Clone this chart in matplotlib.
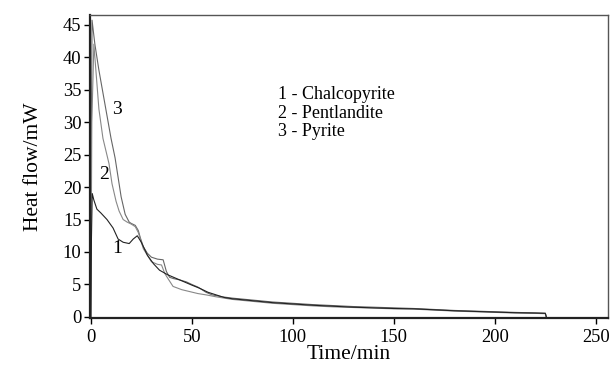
import matplotlib
matplotlib.use("Agg")
import matplotlib.pyplot as plt

# Chalcopyrite (1)
t1 = [0, 0.3, 0.7, 1.5, 3, 5, 8, 11, 13.5, 16, 19, 21, 23, 25, 28, 31, 34, 38, 44,
      50, 54, 58, 62, 66, 70, 80, 90, 100, 110, 120, 130, 140, 150, 160, 170, 180,
      190, 200, 210, 220, 225, 225.5]
v1 = [0, 12, 19, 18, 16.6, 16, 15, 13.7, 12, 11.5, 11.3, 12, 12.5, 11.5, 9.5, 8.2,
      7.2, 6.5, 5.7, 4.9, 4.4, 3.8, 3.4, 3.0, 2.8, 2.5, 2.2, 2.0, 1.8, 1.65, 1.5, 1.4,
      1.3, 1.25, 1.1, 0.95, 0.85, 0.75, 0.65, 0.6, 0.55, 0]

# Pentlandite (2)
t2 = [0, 0.5, 1.5, 2.5, 4, 6, 9, 10.5, 12.5, 14, 16, 18, 20, 22, 23.5, 24.5, 26, 28,
      30, 33, 35, 36.6, 38, 40.7, 45, 49, 53, 57, 62, 66, 70, 80, 90, 100, 110, 120,
      130, 140, 150, 160, 170, 180, 190, 200, 210, 220, 225, 225.5]
v2 = [0, 30, 42, 38, 32, 27.5, 23.6, 20.5, 17.8, 16.3, 15, 14.6, 14.3, 13.9, 13, 12,
      10.5, 9.5, 8.5, 8.1, 8.0, 6.7, 6.0, 4.7, 4.2, 3.9, 3.6, 3.4, 3.1, 2.9, 2.7, 2.4,
      2.1, 1.9, 1.7, 1.55, 1.45, 1.35, 1.25, 1.2, 1.05, 0.9, 0.8, 0.7, 0.6, 0.55, 0.5, 0]

# Pyrite (3)
t3 = [0, 0.2, 0.6, 2, 4, 6, 8, 10, 12, 13.5, 15, 17, 19, 20, 22, 23.5, 24.5, 26, 28,
      30, 33, 35.8, 37.4, 39, 41, 44, 47.3, 50, 53, 57, 60, 65, 70, 80, 90, 100, 110,
      120, 130, 140, 150, 160, 170, 180, 190, 200, 210, 220, 225, 225.5]
v3 = [0, 25, 45.7, 42, 38, 34.5, 31, 27.5, 24.5, 21.5, 18.5, 15.8, 14.6, 14.4, 14.1, 13.3,
      12.2, 10.8, 9.8, 9.2, 8.9, 8.8, 7.0, 6.1, 5.9, 5.7, 5.4, 5.0, 4.6, 3.8, 3.4, 3.1,
      2.9, 2.6, 2.3, 2.1, 1.9, 1.75, 1.6, 1.5, 1.4, 1.3, 1.15, 1.0, 0.9, 0.8, 0.7, 0.62,
      0.58, 0]

legend_lines = ["1 - Chalcopyrite", "2 - Pentlandite", "3 - Pyrite"]

plt.rcParams['font.family'] = ['Liberation Serif', 'DejaVu Serif']

fig = plt.figure(figsize=(6.11, 3.65), dpi=100)
ax = fig.add_axes([0.147, 0.129, 0.848, 0.830])

ax.plot(t3, v3, color='#666666', lw=0.8)
ax.plot(t2, v2, color='#888888', lw=0.8)
ax.plot(t1, v1, color='#222222', lw=0.8)

ax.set_xlim(-0.5, 256.0)
ax.set_ylim(-0.15, 46.5)
ax.set_xticks([0, 50, 100, 150, 200, 250])
ax.set_yticks(range(0, 50, 5))
ax.tick_params(direction='out', length=4, width=1, labelsize=13.3)
ax.tick_params(axis='x', pad=4)
ax.tick_params(axis='y', pad=2)

for s in ['left', 'bottom']:
    ax.spines[s].set_linewidth(1.6)
    ax.spines[s].set_color('#222222')
for s in ['top', 'right']:
    ax.spines[s].set_linewidth(1.0)
    ax.spines[s].set_color('#555555')

ax.set_xlabel("Time/min", fontsize=15.5, labelpad=-1)
ax.set_ylabel("Heat flow/mW", fontsize=15.5, labelpad=14)

ax.text(13, 32.0, "3", fontsize=14, ha='center', va='center')
ax.text(6.5, 22.0, "2", fontsize=14, ha='center', va='center')
ax.text(13, 10.6, "1", fontsize=14, ha='center', va='center')

for i, s in enumerate(legend_lines):
    ax.text(92.5, 34.2 - i * 2.8, s, fontsize=13, ha='left', va='center')

fig.savefig("out.png", dpi=100)
